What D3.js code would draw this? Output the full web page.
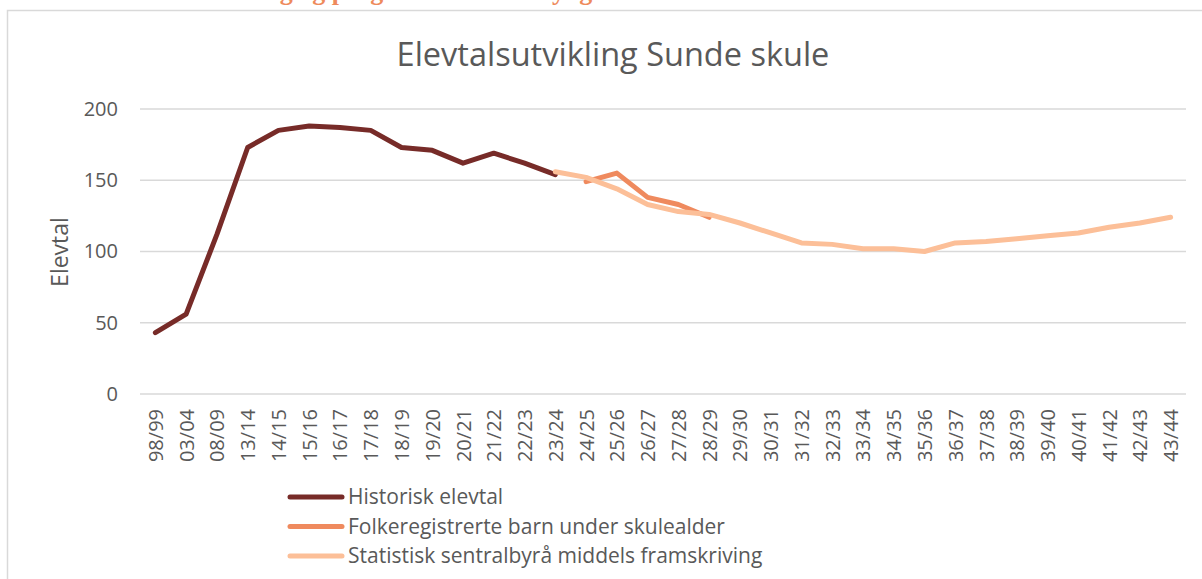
<!DOCTYPE html>
<html><head><meta charset="utf-8">
<script src="https://cdn.jsdelivr.net/npm/d3@7"></script>
<style>body{margin:0;background:#fff}svg{display:block}</style>
</head><body>
<svg id="c" width="1202" height="579"></svg>
<script>
const categories = ["98/99","03/04","08/09","13/14","14/15","15/16","16/17","17/18","18/19","19/20","20/21","21/22","22/23","23/24","24/25","25/26","26/27","27/28","28/29","29/30","30/31","31/32","32/33","33/34","34/35","35/36","36/37","37/38","38/39","39/40","40/41","41/42","42/43","43/44"];
const historisk = [43,56,112,173,185,188,187,185,173,171,162,169,162,154];
const folkereg = [null,null,null,null,null,null,null,null,null,null,null,null,null,null,149,155,138,133,124];
const ssb = [null,null,null,null,null,null,null,null,null,null,null,null,null,156,152,144,133,128,126,120,113,106,105,102,102,100,106,107,109,111,113,117,120,124];
const yTicks = [0,50,100,150,200];
const seriesNames = ["Historisk elevtal","Folkeregistrerte barn under skulealder","Statistisk sentralbyrå middels framskriving"];
const colors = ["#772b28","#ef8a5e","#fcbf98"];

const svg = d3.select("#c");
const font = "'Open Sans', sans-serif";
svg.append("rect").attr("width",1202).attr("height",579).attr("fill","#fff");
svg.append("rect").attr("x",7.5).attr("y",10.5).attr("width",1200).attr("height",600)
  .attr("fill","none").attr("stroke","#d9d9d9").attr("stroke-width",1.5);
svg.append("text").attr("x",105).attr("y",0).attr("font-family","'Liberation Serif', serif")
  .attr("font-weight","bold").attr("font-size",26).attr("fill","#ee8a5c")
  .text("Elevtalsutvikling og prognose for barn i yngre alder");

const x = d3.scalePoint().domain(categories).range([140,1186]).padding(0.5);
const y = d3.scaleLinear().domain([0,200]).range([394,109]);

const g = svg.append("g");
g.selectAll("line.grid").data(yTicks).join("line").attr("class","grid")
  .attr("x1",140).attr("x2",1186).attr("y1",d=>y(d)).attr("y2",d=>y(d))
  .attr("stroke","#d9d9d9").attr("stroke-width",1.5);

const yAxis = svg.append("g").attr("transform","translate(140,0)")
  .call(d3.axisLeft(y).tickValues(yTicks).tickSize(0).tickPadding(22));
yAxis.select(".domain").remove();
yAxis.selectAll("text").attr("font-family",font).attr("font-size",20).attr("fill","#595959");

const xAxis = svg.append("g").attr("transform","translate(0,394)")
  .call(d3.axisBottom(x).tickSize(0).tickPadding(0));
xAxis.select(".domain").remove();
xAxis.selectAll("text").attr("font-family",font).attr("font-size",20).attr("fill","#595959")
  .attr("transform","rotate(-90)").attr("text-anchor","end").attr("x",-15).attr("y",0).attr("dy","0.35em").attr("dx",0);

svg.append("text").attr("transform","translate(68,252) rotate(-90)").attr("text-anchor","middle")
  .attr("font-family",font).attr("font-size",23).attr("fill","#595959").text("Elevtal");

svg.append("text").attr("x",613).attr("y",66).attr("text-anchor","middle")
  .attr("font-family",font).attr("font-size",32.5).attr("fill","#595959").text("Elevtalsutvikling Sunde skule");

const line = d3.line().defined(d=>d.v!=null).x(d=>x(d.c)).y(d=>y(d.v));
[historisk,folkereg,ssb].forEach((arr,i)=>{
  const data = categories.map((c,j)=>({c, v: j<arr.length ? arr[j] : null}));
  svg.append("path").datum(data).attr("d",line).attr("fill","none")
    .attr("stroke",colors[i]).attr("stroke-width",5).attr("stroke-linejoin","round").attr("stroke-linecap","round");
});
const leg = svg.append("g");
seriesNames.forEach((n,i)=>{
  const yy = 497 + i*29.5;
  leg.append("line").attr("x1",290).attr("x2",342).attr("y1",yy).attr("y2",yy)
    .attr("stroke",colors[i]).attr("stroke-width",5).attr("stroke-linecap","round");
  leg.append("text").attr("x",348).attr("y",yy).attr("dy","0.35em")
    .attr("font-family",font).attr("font-size",21).attr("fill","#595959").text(n);
});
</script>
</body></html>
